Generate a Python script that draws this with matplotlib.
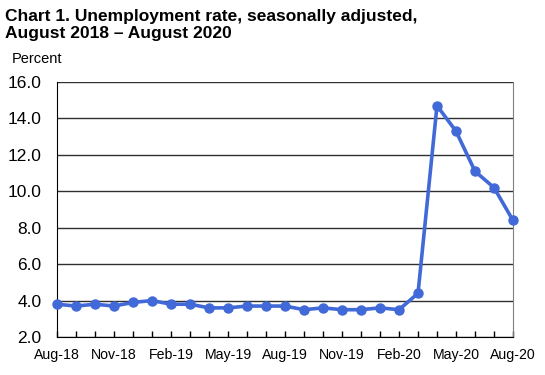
import matplotlib
matplotlib.use('Agg')
import matplotlib.pyplot as plt

plt.rcParams['font.family'] = ['Liberation Sans', 'DejaVu Sans']

months = ['Aug-18', 'Sep-18', 'Oct-18', 'Nov-18', 'Dec-18', 'Jan-19', 'Feb-19',
          'Mar-19', 'Apr-19', 'May-19', 'Jun-19', 'Jul-19', 'Aug-19', 'Sep-19',
          'Oct-19', 'Nov-19', 'Dec-19', 'Jan-20', 'Feb-20', 'Mar-20', 'Apr-20',
          'May-20', 'Jun-20', 'Jul-20', 'Aug-20']
rate = [3.8, 3.7, 3.8, 3.7, 3.9, 4.0, 3.8, 3.8, 3.6, 3.6, 3.7, 3.7, 3.7,
        3.5, 3.6, 3.5, 3.5, 3.6, 3.5, 4.4, 14.7, 13.3, 11.1, 10.2, 8.4]
yticks = [2.0, 4.0, 6.0, 8.0, 10.0, 12.0, 14.0, 16.0]

fig = plt.figure(figsize=(5.45, 3.75), dpi=100)
ax = fig.add_axes([0.1046, 0.1013, 0.8367, 0.68])

x = list(range(len(months)))
ax.plot(x, rate, color='#4169D8', lw=2.6, marker='o', ms=6.5, zorder=3, clip_on=False)

ax.set_xlim(0, len(months) - 1)
ax.set_ylim(2, 16)
ax.set_yticks(yticks)
ax.set_yticklabels(['%.1f' % v for v in yticks], fontsize=12.5)
ax.yaxis.grid(True, color='#303030', lw=1)
ax.set_axisbelow(True)
ax.tick_params(axis='y', length=0, pad=11)

ax.set_xticks(x)
ax.set_xticklabels([m if i % 3 == 0 else '' for i, m in enumerate(months)], fontsize=10.2)
ax.tick_params(axis='x', direction='in', length=4, width=1, pad=8)

ax.spines['top'].set_visible(False)
ax.spines['right'].set_color('#808080')
ax.spines['left'].set_color('black')
ax.spines['bottom'].set_color('black')

fig.text(0.009, 0.975, 'Chart 1. Unemployment rate, seasonally adjusted,\nAugust 2018 \u2013 August 2020',
         fontsize=12.5, fontweight='bold', va='top', ha='left', linespacing=1.15)
fig.text(0.022, 0.843, 'Percent', fontsize=10.5, va='center', ha='left')

fig.savefig('out.png', dpi=100)
